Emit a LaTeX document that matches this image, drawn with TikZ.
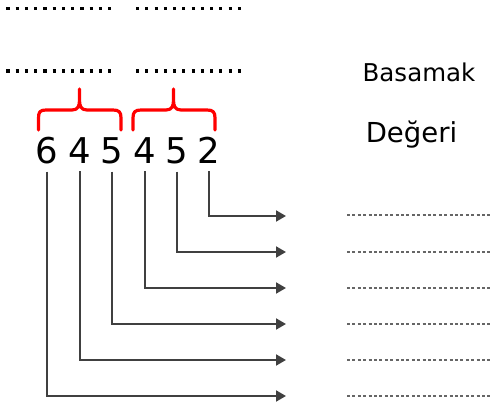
\documentclass[tikz,border=0pt]{standalone}
\usepackage{fontspec}
\setmainfont{DejaVu Sans}
\usetikzlibrary{arrows.meta}
\begin{document}
\begin{tikzpicture}[x=1pt,y=-1pt,
  dotrow/.style={line width=3.2pt,dash pattern=on 3.2pt off 6.05pt},
  bracepath/.style={red,line width=3.2pt,line cap=round,line join=round},
  digit/.style={font=\fontsize{35.5}{40}\selectfont,inner xsep=0pt,inner ysep=8pt,anchor=base},
  conn/.style={draw=black!75,line width=2pt,-{Triangle[length=10pt,width=11pt]}},
  blankline/.style={draw=black!60,line width=1.2pt,dash pattern=on 3pt off 2.4pt},
  label/.style={inner sep=0pt,anchor=base}]
\useasboundingbox (0,0) rectangle (491,410);
% dotted blanks
\draw[dotrow] (6.3,8.5) -- (110.5,8.5);
\draw[dotrow] (136,8.5) -- (240.5,8.5);
\draw[dotrow] (6.3,71) -- (110.5,71);
\draw[dotrow] (136,71) -- (240.5,71);
% braces
\draw[bracepath] (38.5,130) -- (38.5,118) .. controls (38.5,112) and (40,110) .. (46,110)
  -- (72,110) .. controls (78,110) and (79.5,106) .. (79.5,100) -- (79.5,89)
  (79.5,100) .. controls (79.5,106) and (81,110) .. (87,110)
  -- (113,110) .. controls (119,110) and (121,112) .. (121,118) -- (121,130);
\draw[bracepath] (133,130) -- (133,118) .. controls (133,112) and (135,110) .. (141,110)
  -- (166,110) .. controls (172,110) and (173.5,106) .. (173.5,100) -- (173.5,89)
  (173.5,100) .. controls (173.5,106) and (175,110) .. (181,110)
  -- (207,110) .. controls (213,110) and (215,112) .. (215,118) -- (215,130);
% digits
\node[digit] (d1) at (46.5,163) {6};
\node[digit] (d2) at (79.5,163) {4};
\node[digit] (d3) at (112,163) {5};
\node[digit] (d4) at (144.5,163) {4};
\node[digit] (d5) at (176.5,163) {5};
\node[digit] (d6) at (208.5,163) {2};
% labels
\node[label,font=\fontsize{24.5}{28}\selectfont] (b1) at (419,81) {Basamak};
\node[label,font=\fontsize{27.5}{31}\selectfont] (b2) at (411.5,142) {Değeri};
% arrow ends
\coordinate (e6) at (286,216);
\coordinate (e5) at (286,252);
\coordinate (e4) at (286,288);
\coordinate (e3) at (286,324);
\coordinate (e2) at (286,360);
\coordinate (e1) at (286,396);
\draw[conn] (d6.south) |- (e6);
\draw[conn] (d5.south) |- (e5);
\draw[conn] (d4.south) |- (e4);
\draw[conn] (d3.south) |- (e3);
\draw[conn] (d2.south) |- (e2);
\draw[conn] (d1.south) |- (e1);
% answer blanks
\foreach \yy/\n in {215/6,252/5,288/4,324/3,360/2,396/1}{
  \coordinate (s\n) at (347,\yy);
  \coordinate (t\n) at (491,\yy);
  \draw[blankline] (s\n) -- (t\n);
}
\end{tikzpicture}
\end{document}
